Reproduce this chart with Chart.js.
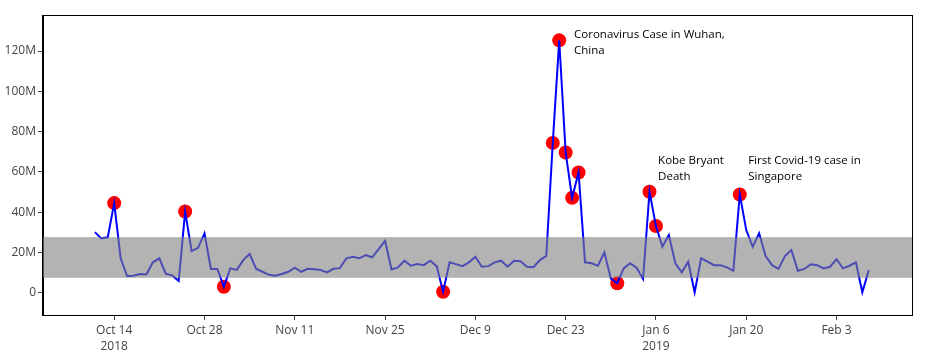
<!DOCTYPE html>
<html>
<head>
<meta charset="utf-8">
<script src="https://cdn.jsdelivr.net/npm/chart.js@4/dist/chart.umd.min.js"></script>
<style>
  html, body { margin: 0; padding: 0; background: #fff; }
  #wrap { width: 926px; height: 355px; }
</style>
</head>
<body>
<div id="wrap"><canvas id="c" width="926" height="355"></canvas></div>
<script>
// ---- data (values in millions) ----
const startDate = '2018-10-11';
const volume = [
  30.1, 27.0, 27.5, 44.5, 17.1, 8.3, 8.4, 9.3, 9.1, 15.1,
  17.1, 9.4, 8.6, 5.8, 40.3, 20.7, 22.3, 29.5, 11.8, 11.8,
  3.0, 12.1, 11.3, 16.2, 19.2, 11.9, 10.4, 8.9, 8.4, 9.3,
  10.4, 12.4, 10.4, 11.9, 11.6, 11.3, 10.1, 11.9, 12.2, 17.1,
  17.9, 17.1, 18.7, 17.6, 21.7, 25.8, 11.6, 12.6, 15.9, 13.4,
  14.2, 13.7, 15.9, 13.2, 0.5, 15.1, 14.2, 13.2, 15.1, 17.9,
  12.9, 13.2, 15.1, 15.9, 12.9, 15.9, 15.6, 12.9, 12.7, 16.2,
  18.3, 74.4, 125.3, 69.6, 47.1, 59.7, 15.1, 14.6, 13.4, 20.0,
  7.1, 4.7, 12.1, 14.6, 12.4, 6.8, 50.1, 33.1, 22.8, 28.6,
  14.6, 10.1, 15.4, 0.2, 17.1, 15.4, 13.7, 13.7, 12.6, 10.9,
  48.8, 31.1, 22.8, 29.5, 18.2, 13.7, 11.8, 18.2, 21.2, 10.9,
  11.8, 14.1, 13.7, 12.1, 12.9, 16.6, 12.1, 13.4, 15.1, 0.2,
  11.3
];
const anomalyDates = ['2018-10-14','2018-10-25','2018-10-31','2018-12-04','2018-12-21','2018-12-22',
  '2018-12-23','2018-12-24','2018-12-25','2018-12-31','2019-01-05','2019-01-06','2019-01-19'];
const anomalyValues = [44.5, 40.3, 3.0, 0.5, 74.4, 125.3, 69.6, 47.1, 59.7, 4.7, 50.1, 33.1, 48.8];
const bandLow = 7.4;
const bandHigh = 27.6;
const xTickDates = ['2018-10-14','2018-10-28','2018-11-11','2018-11-25','2018-12-09','2018-12-23','2019-01-06','2019-01-20','2019-02-03'];
const xTickLabels = [['Oct 14','2018'],'Oct 28','Nov 11','Nov 25','Dec 9','Dec 23',['Jan 6','2019'],'Jan 20','Feb 3'];
const yTickValues = [0, 20, 40, 60, 80, 100, 120];
const yTickLabels = ['0','20M','40M','60M','80M','100M','120M'];
const notes = [
  { lines: ['Coronavirus Case in Wuhan,', 'China'], date: '2018-12-22', dx: 2.3, y: 126.5 },
  { lines: ['Kobe Bryant', 'Death'], date: '2019-01-05', dx: 1.33, y: 63.8 },
  { lines: ['First Covid-19 case in', 'Singapore'], date: '2019-01-19', dx: 1.3, y: 63.8 }
];

// ---- helpers ----
const DAY = 86400000;
function dayIndex(s) {
  const p = s.split('-').map(Number), q = startDate.split('-').map(Number);
  return (Date.UTC(p[0], p[1]-1, p[2]) - Date.UTC(q[0], q[1]-1, q[2])) / DAY;
}
const linePts = volume.map((v, i) => ({ x: i, y: v }));
const anomPts = anomalyDates.map((d, i) => ({ x: dayIndex(d), y: anomalyValues[i] }));
const xTickPos = xTickDates.map(dayIndex);

const overlay = {
  id: 'overlay',
  afterDatasetsDraw(chart) {
    const { ctx, chartArea: a, scales: { x, y } } = chart;
    ctx.save();
    ctx.beginPath();
    ctx.rect(a.left, a.top, a.right - a.left, a.bottom - a.top);
    ctx.clip();
    const yt = y.getPixelForValue(bandHigh), yb = y.getPixelForValue(bandLow);
    ctx.fillStyle = 'rgba(128,128,128,0.6)';
    ctx.fillRect(a.left, yt, a.right - a.left, yb - yt);
    ctx.restore();

    ctx.save();
    ctx.fillStyle = '#000';
    ctx.font = '11.5px "Open Sans"';
    ctx.textAlign = 'left';
    ctx.textBaseline = 'alphabetic';
    notes.forEach(n => {
      const px = x.getPixelForValue(dayIndex(n.date) + n.dx);
      const py = y.getPixelForValue(n.y);
      n.lines.forEach((t, i) => ctx.fillText(t, px, py + i * 16));
    });
    ctx.restore();

    ctx.save();
    ctx.strokeStyle = '#000';
    ctx.lineWidth = 1;
    ctx.strokeRect(Math.round(a.left) - 0.5, Math.round(a.top) - 0.5, Math.round(a.right - a.left) + 1, Math.round(a.bottom - a.top) + 1);
    ctx.restore();
  }
};

new Chart(document.getElementById('c'), {
  type: 'line',
  data: {
    datasets: [
      { data: linePts, borderColor: '#0000ff', borderWidth: 2, pointRadius: 0, tension: 0, fill: false, order: 1 },
      { data: anomPts, showLine: false, pointRadius: 7, pointBackgroundColor: '#ff0000', pointBorderWidth: 0, borderColor: '#ff0000', order: 2 }
    ]
  },
  options: {
    responsive: false,
    animation: false,
    devicePixelRatio: 1,
    layout: { padding: { top: 16, right: 14, left: 0, bottom: 0 } },
    plugins: { legend: { display: false }, tooltip: { enabled: false } },
    scales: {
      x: {
        type: 'linear',
        min: -8.04, max: 126.7,
        afterFit(s) { s.height = 40; },
        afterBuildTicks(s) { s.ticks = xTickPos.map(v => ({ value: v })); },
        ticks: {
          autoSkip: false, maxRotation: 0, padding: 3,
          color: '#444', font: { family: 'Open Sans', size: 12, lineHeight: 1.3 },
          callback(v) { const i = xTickPos.indexOf(v); return i >= 0 ? xTickLabels[i] : ''; }
        },
        grid: { drawOnChartArea: false, drawTicks: true, tickLength: 5, color: '#444' },
        border: { display: true, color: '#000', width: 1 }
      },
      y: {
        min: -11.06, max: 137.4,
        afterFit(s) { s.width = 43; },
        afterBuildTicks(s) { s.ticks = yTickValues.map(v => ({ value: v })); },
        ticks: {
          padding: 2,
          color: '#444', font: { family: 'Open Sans', size: 12 },
          callback(v) { const i = yTickValues.indexOf(v); return i >= 0 ? yTickLabels[i] : ''; }
        },
        grid: { drawOnChartArea: false, drawTicks: true, tickLength: 5, color: '#444' },
        border: { display: true, color: '#000', width: 1 }
      }
    }
  },
  plugins: [overlay]
});
</script>
</body>
</html>
